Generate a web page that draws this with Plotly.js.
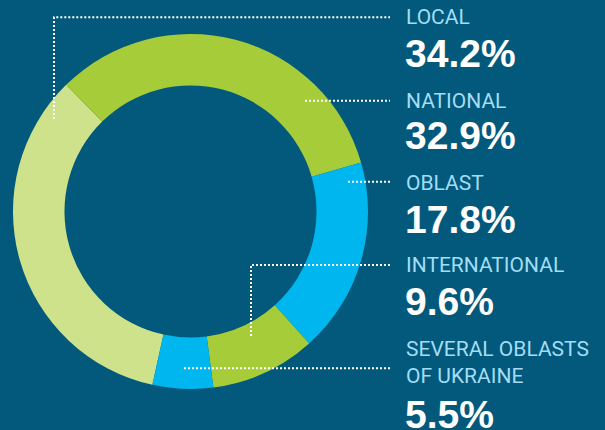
<!DOCTYPE html>
<html>
<head>
<meta charset="utf-8">
<script src="https://cdn.plot.ly/plotly-3.0.1.min.js"></script>
<style>html,body{margin:0;padding:0;background:#02597c;}#chart{width:605px;height:430px;}</style>
</head>
<body>
<div id="chart"></div>
<script>
// ---- data ----
var categories = ['LOCAL', 'NATIONAL', 'OBLAST', 'INTERNATIONAL', 'SEVERAL OBLASTS<br>OF UKRAINE'];
var values = [34.2, 32.9, 17.8, 9.6, 5.5];
var sliceColors = ['#cde28b', '#a6cc3a', '#00b6ef', '#a6cc3a', '#00b6ef'];

// ---- layout helpers (pixel positions) ----
var W = 605, H = 430;
function px(x) { return x / W; }
function py(y) { return 1 - y / H; }

var labelX = 404;
var labelY = [17.2, 100.8, 183.3, 265, 362.4];
var valueY = [54, 135.8, 219, 301, 414];
var leaders = [
  [[54, 119], [54, 17.3], [390, 17.3]],
  [[305, 100.7], [390, 100.7]],
  [[348, 181.7], [390, 181.7]],
  [[251, 336], [251, 265], [390, 265]],
  [[184, 368.3], [390, 368.3]]
];

var annotations = [];
categories.forEach(function (c, i) {
  annotations.push({
    xref: 'paper', yref: 'paper', x: px(labelX), y: py(labelY[i]),
    xanchor: 'left', yanchor: 'middle', align: 'left', showarrow: false,
    text: c, font: {family: 'Roboto', size: 21, color: '#a3ddf4'}
  });
  annotations.push({
    xref: 'paper', yref: 'paper', x: px(labelX - 1), y: py(valueY[i]),
    xanchor: 'left', yanchor: 'middle', align: 'left', showarrow: false,
    text: '<b>' + values[i].toFixed(1) + '%</b>',
    font: {family: 'Liberation Sans', size: 39, color: '#ffffff'}
  });
});

var shapes = leaders.map(function (pts) {
  var d = pts.map(function (p, k) { return (k ? 'L' : 'M') + px(p[0]) + ',' + py(p[1]); }).join(' ');
  return {type: 'path', xref: 'paper', yref: 'paper', path: d, layer: 'above',
          line: {color: '#ffffff', width: 2, dash: '2px,2px'}};
});

var trace = {
  type: 'pie',
  labels: categories,
  values: values,
  sort: false,
  direction: 'clockwise',
  rotation: 192.4,
  hole: 0.71,
  textinfo: 'none',
  hoverinfo: 'label+percent',
  marker: {colors: sliceColors, line: {width: 0}},
  domain: {x: [px(13), px(368)], y: [py(389), py(34)]},
  showlegend: false
};

var layout = {
  width: W, height: H,
  margin: {l: 0, r: 0, t: 0, b: 0},
  paper_bgcolor: '#02597c',
  plot_bgcolor: '#02597c',
  showlegend: false,
  annotations: annotations,
  shapes: shapes
};

Plotly.newPlot('chart', [trace], layout, {displayModeBar: false, staticPlot: true});
</script>
</body>
</html>
